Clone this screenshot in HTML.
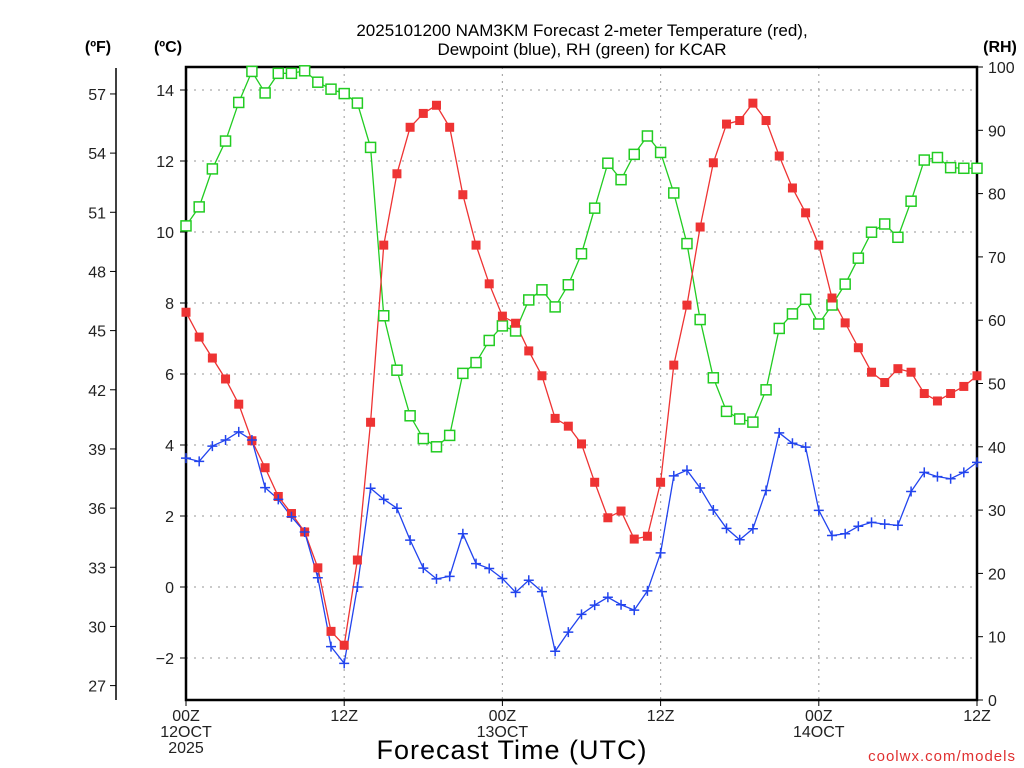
<!DOCTYPE html>
<html><head><meta charset="utf-8"><style>
html,body{margin:0;padding:0;background:#fff;}
svg{display:block;font-family:"Liberation Sans","DejaVu Sans",sans-serif;}
</style></head><body>
<svg id="chart" width="1024" height="768" viewBox="0 0 1024 768" xmlns="http://www.w3.org/2000/svg">
<text x="582" y="36" font-size="17" text-anchor="middle" fill="#000">2025101200 NAM3KM Forecast 2-meter Temperature (red),</text>
<text x="582" y="55" font-size="17" text-anchor="middle" fill="#000">Dewpoint (blue), RH (green) for KCAR</text>
<text x="98" y="52" font-size="16" font-weight="bold" text-anchor="middle">(ºF)</text>
<text x="168" y="52" font-size="16" font-weight="bold" text-anchor="middle">(ºC)</text>
<text x="1000" y="52" font-size="16" font-weight="bold" text-anchor="middle">(RH)</text>
<text x="512" y="759" font-size="27" text-anchor="middle" letter-spacing="1">Forecast Time (UTC)</text>
<text x="1016" y="761" font-size="15" text-anchor="end" fill="#e03030" letter-spacing="1">coolwx.com/models</text>
<g id="grid"></g><g id="axes"></g><g id="series"></g>
</svg>
<script>
const hours = [0,12,24,36,48,60];
const xTickLine1 = ["00Z","12Z","00Z","12Z","00Z","12Z"];
const xTickLine2 = ["12OCT","","13OCT","","14OCT",""];
const xTickLine3 = ["2025","","","","",""];
const celsiusTicks = [-2,0,2,4,6,8,10,12,14];
const fahrenheitTicks = [27,30,33,36,39,42,45,48,51,54,57];
const rhTicks = [0,10,20,30,40,50,60,70,80,90,100];
const tempC = [7.74,7.04,6.45,5.86,5.15,4.12,3.36,2.55,2.07,1.55,0.54,-1.25,-1.64,0.76,4.64,9.63,11.64,12.95,13.34,13.57,12.95,11.05,9.63,8.54,7.63,7.43,6.65,5.95,4.75,4.53,4.03,2.95,1.95,2.14,1.35,1.43,2.95,6.25,7.94,10.14,11.95,13.04,13.14,13.63,13.14,12.14,11.24,10.54,9.63,8.14,7.44,6.74,6.05,5.76,6.15,6.05,5.45,5.24,5.45,5.65,5.95];
const dewC = [3.63,3.54,3.97,4.14,4.37,4.14,2.80,2.47,1.98,1.55,0.26,-1.68,-2.15,0.0,2.78,2.47,2.22,1.32,0.53,0.23,0.30,1.50,0.66,0.52,0.24,-0.15,0.19,-0.13,-1.81,-1.27,-0.77,-0.51,-0.29,-0.50,-0.65,-0.11,0.96,3.13,3.29,2.79,2.17,1.65,1.33,1.64,2.72,4.34,4.05,3.94,2.16,1.45,1.50,1.71,1.82,1.77,1.74,2.69,3.23,3.11,3.05,3.23,3.51];
const rh = [74.9,77.9,83.9,88.3,94.4,99.3,95.9,99.0,99.0,99.4,97.6,96.5,95.8,94.3,87.3,60.7,52.1,44.9,41.3,40.0,41.8,51.6,53.3,56.8,59.1,58.3,63.2,64.8,62.1,65.6,70.5,77.7,84.8,82.2,86.2,89.1,86.5,80.1,72.1,60.1,50.9,45.6,44.4,43.9,49.0,58.7,61.0,63.3,59.4,62.4,65.7,69.8,73.9,75.2,73.1,78.8,85.3,85.7,84.1,84.0,84.0];

const NS="http://www.w3.org/2000/svg";
const L=186,R=977,T=67,B=700;
const SPAN=60;
const xH = h => L + h*(R-L)/SPAN;
const xI = i => xH(i);
const yC = c => 587 - c*35.5;
const yF = f => yC((f-32)/1.8);
const yRH = v => B - v*(B-T)/100;
function mk(tag, attrs, parent){const e=document.createElementNS(NS,tag);for(const k in attrs)e.setAttribute(k,attrs[k]);parent.appendChild(e);return e;}
const grid=document.getElementById('grid'),axes=document.getElementById('axes'),series=document.getElementById('series');

celsiusTicks.forEach(c=>{
  const y=yC(c);
  const g=mk('line',{x1:L,x2:R,y1:y,y2:y,stroke:'#aaa','stroke-width':1.2,'stroke-dasharray':'2,6'},grid);
  
  
  mk('line',{x1:L-6,x2:L,y1:y,y2:y,stroke:'#000','stroke-width':1},axes);
  const t=mk('text',{x:L-12,y:y+6,'font-size':16,'text-anchor':'end',fill:'#222'},axes);
  t.textContent=c<0?'\u2212'+(-c):String(c);
  
  
});
hours.forEach((h,i)=>{
  const x=xH(h);
  if(h>0&&h<SPAN){
    const g=mk('line',{x1:x,x2:x,y1:T,y2:B,stroke:'#aaa','stroke-width':1.2,'stroke-dasharray':'2,5'},grid);
    
    
  }
  mk('line',{x1:x,x2:x,y1:B,y2:B+6,stroke:'#000','stroke-width':1},axes);
  [xTickLine1[i],xTickLine2[i],xTickLine3[i]].forEach((s,k)=>{
    if(!s)return;
    const t=mk('text',{x:x,y:721+k*16,'font-size':16,'text-anchor':'middle',fill:'#222'},axes);
    t.textContent=s;
    
    
  });
});
const fl=mk('line',{x1:116,x2:116,y1:T+1,y2:B,stroke:'#000','stroke-width':1.5},axes);


fahrenheitTicks.forEach(f=>{
  const y=yF(f);
  mk('line',{x1:110,x2:116,y1:y,y2:y,stroke:'#000','stroke-width':1},axes);
  const t=mk('text',{x:106,y:y+6,'font-size':16,'text-anchor':'end',fill:'#222'},axes);
  t.textContent=String(f);
  
  
});
rhTicks.forEach(v=>{
  const y=yRH(v);
  mk('line',{x1:R,x2:R+6,y1:y,y2:y,stroke:'#000','stroke-width':1},axes);
  const t=mk('text',{x:988,y:y+6,'font-size':16,'text-anchor':'start',fill:'#222'},axes);
  t.textContent=String(v);
  
  
});
const fr=mk('rect',{x:L,y:T,width:R-L,height:B-T,fill:'none',stroke:'#000','stroke-width':2.5},axes);



function line(vals,yf,color,name){
  const p=mk('polyline',{points:vals.map((v,i)=>xI(i)+','+yf(v)).join(' '),fill:'none',stroke:color,'stroke-width':1.3},series);
  
  
}
line(rh,yRH,'#22cc22','rh-line');
line(tempC,yC,'#ee3333','temperature-line');
line(dewC,yC,'#2244ee','dewpoint-line');
rh.forEach((v,i)=>{
  const m=mk('rect',{x:xI(i)-5,y:yRH(v)-5,width:10,height:10,fill:'#fff',stroke:'#22cc22','stroke-width':1.5},series);
  
  
});
tempC.forEach((v,i)=>{
  const m=mk('rect',{x:xI(i)-4.5,y:yC(v)-4.5,width:9,height:9,fill:'#ee3333'},series);
  
  
});
dewC.forEach((v,i)=>{
  const x=xI(i),y=yC(v);
  const m=mk('path',{d:`M${x-5},${y}H${x+5}M${x},${y-5}V${y+5}`,stroke:'#2244ee','stroke-width':1.5,fill:'none'},series);
  
  
});
</script>
</body></html>
